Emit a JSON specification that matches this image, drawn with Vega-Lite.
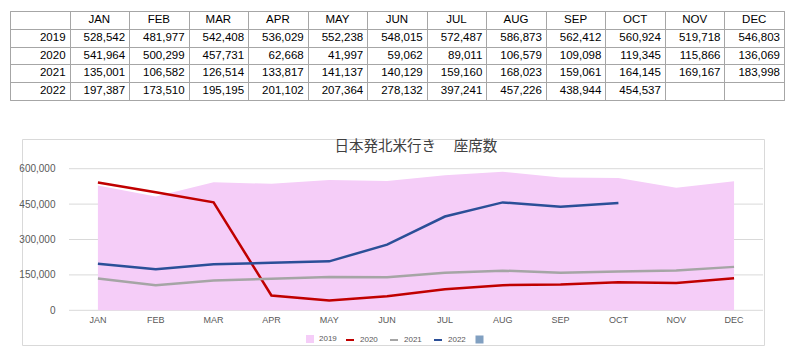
{
  "$schema": "https://vega.github.io/schema/vega-lite/v6.json",
  "padding": {"left": 9, "top": 10, "right": 0, "bottom": 0},
  "background": "white",
  "config": {"font": "Liberation Sans", "view": {"stroke": null}},
  "datasets": {
    "seats": [
      {"y": "2019", "m": "JAN", "v": 528542}, {"y": "2019", "m": "FEB", "v": 481977}, {"y": "2019", "m": "MAR", "v": 542408},
      {"y": "2019", "m": "APR", "v": 536029}, {"y": "2019", "m": "MAY", "v": 552238}, {"y": "2019", "m": "JUN", "v": 548015},
      {"y": "2019", "m": "JUL", "v": 572487}, {"y": "2019", "m": "AUG", "v": 586873}, {"y": "2019", "m": "SEP", "v": 562412},
      {"y": "2019", "m": "OCT", "v": 560924}, {"y": "2019", "m": "NOV", "v": 519718}, {"y": "2019", "m": "DEC", "v": 546803},
      {"y": "2020", "m": "JAN", "v": 541964}, {"y": "2020", "m": "FEB", "v": 500299}, {"y": "2020", "m": "MAR", "v": 457731},
      {"y": "2020", "m": "APR", "v": 62668}, {"y": "2020", "m": "MAY", "v": 41997}, {"y": "2020", "m": "JUN", "v": 59062},
      {"y": "2020", "m": "JUL", "v": 89011}, {"y": "2020", "m": "AUG", "v": 106579}, {"y": "2020", "m": "SEP", "v": 109098},
      {"y": "2020", "m": "OCT", "v": 119345}, {"y": "2020", "m": "NOV", "v": 115866}, {"y": "2020", "m": "DEC", "v": 136069},
      {"y": "2021", "m": "JAN", "v": 135001}, {"y": "2021", "m": "FEB", "v": 106582}, {"y": "2021", "m": "MAR", "v": 126514},
      {"y": "2021", "m": "APR", "v": 133817}, {"y": "2021", "m": "MAY", "v": 141137}, {"y": "2021", "m": "JUN", "v": 140129},
      {"y": "2021", "m": "JUL", "v": 159160}, {"y": "2021", "m": "AUG", "v": 168023}, {"y": "2021", "m": "SEP", "v": 159061},
      {"y": "2021", "m": "OCT", "v": 164145}, {"y": "2021", "m": "NOV", "v": 169167}, {"y": "2021", "m": "DEC", "v": 183998},
      {"y": "2022", "m": "JAN", "v": 197387}, {"y": "2022", "m": "FEB", "v": 173510}, {"y": "2022", "m": "MAR", "v": 195195},
      {"y": "2022", "m": "APR", "v": 201102}, {"y": "2022", "m": "MAY", "v": 207364}, {"y": "2022", "m": "JUN", "v": 278132},
      {"y": "2022", "m": "JUL", "v": 397241}, {"y": "2022", "m": "AUG", "v": 457226}, {"y": "2022", "m": "SEP", "v": 438944},
      {"y": "2022", "m": "OCT", "v": 454537}
    ]
  },
  "spacing": 37,
  "align": "each",
  "vconcat": [
    {
      "width": 774,
      "height": 89,
      "view": {"stroke": "#a6a6a6"},
      "data": {"name": "seats"},
      "layer": [
        {
          "transform": [{"filter": "datum.y == '2019'"}],
          "mark": {"type": "text", "align": "center", "baseline": "middle", "fontSize": 11.5, "color": "#000000"},
          "encoding": {
            "x": {"field": "m", "type": "nominal",
              "scale": {"type": "band", "domain": ["Y", "JAN", "FEB", "MAR", "APR", "MAY", "JUN", "JUL", "AUG", "SEP", "OCT", "NOV", "DEC"], "paddingInner": 0, "paddingOuter": 0},
              "axis": {"grid": true, "tickBand": "extent", "labels": false, "ticks": false, "domain": false, "title": null, "gridColor": "#a6a6a6", "gridOpacity": 1, "gridWidth": 1}},
            "y": {"datum": "H",
              "scale": {"type": "band", "domain": ["H", "2019", "2020", "2021", "2022"], "paddingInner": 0, "paddingOuter": 0},
              "axis": {"grid": true, "tickBand": "extent", "labels": false, "ticks": false, "domain": false, "title": null, "gridColor": "#a6a6a6", "gridOpacity": 1, "gridWidth": 1}},
            "text": {"field": "m"}
          }
        },
        {
          "transform": [{"filter": "datum.m == 'JAN'"}],
          "mark": {"type": "text", "align": "right", "baseline": "middle", "dx": -4, "fontSize": 11.5, "color": "#000000"},
          "encoding": {
            "x": {"datum": "Y", "bandPosition": 1,
              "scale": {"type": "band", "domain": ["Y", "JAN", "FEB", "MAR", "APR", "MAY", "JUN", "JUL", "AUG", "SEP", "OCT", "NOV", "DEC"], "paddingInner": 0, "paddingOuter": 0},
              "axis": {"grid": true, "tickBand": "extent", "labels": false, "ticks": false, "domain": false, "title": null, "gridColor": "#a6a6a6", "gridOpacity": 1, "gridWidth": 1}},
            "y": {"field": "y", "type": "nominal",
              "scale": {"type": "band", "domain": ["H", "2019", "2020", "2021", "2022"], "paddingInner": 0, "paddingOuter": 0},
              "axis": {"grid": true, "tickBand": "extent", "labels": false, "ticks": false, "domain": false, "title": null, "gridColor": "#a6a6a6", "gridOpacity": 1, "gridWidth": 1}},
            "text": {"field": "y"}
          }
        },
        {
          "mark": {"type": "text", "align": "right", "baseline": "middle", "dx": -4, "fontSize": 11.5, "color": "#000000"},
          "encoding": {
            "x": {"field": "m", "type": "nominal", "bandPosition": 1,
              "scale": {"type": "band", "domain": ["Y", "JAN", "FEB", "MAR", "APR", "MAY", "JUN", "JUL", "AUG", "SEP", "OCT", "NOV", "DEC"], "paddingInner": 0, "paddingOuter": 0},
              "axis": {"grid": true, "tickBand": "extent", "labels": false, "ticks": false, "domain": false, "title": null, "gridColor": "#a6a6a6", "gridOpacity": 1, "gridWidth": 1}},
            "y": {"field": "y", "type": "nominal",
              "scale": {"type": "band", "domain": ["H", "2019", "2020", "2021", "2022"], "paddingInner": 0, "paddingOuter": 0},
              "axis": {"grid": true, "tickBand": "extent", "labels": false, "ticks": false, "domain": false, "title": null, "gridColor": "#a6a6a6", "gridOpacity": 1, "gridWidth": 1}},
            "text": {"field": "v", "type": "quantitative", "format": ","}
          }
        }
      ]
    },
    {
      "spacing": 0,
      "align": "each",
      "hconcat": [
        {"width": 8, "height": 1, "data": {"values": []}, "mark": "point", "encoding": {}},
        {
          "width": 742,
          "height": 206,
          "view": {"stroke": "#d9d9d9"},
          "layer": [
            {
              "data": {"values": [{"g": 0}, {"g": 150000}, {"g": 300000}, {"g": 450000}, {"g": 600000}]},
              "mark": {"type": "rule", "color": "#d9d9d9", "strokeWidth": 1, "x2Offset": 29},
              "encoding": {
                "y": {"field": "g", "type": "quantitative",
                  "scale": {"domain": [-147034, 725848], "nice": false, "zero": false},
                  "axis": {"orient": "left", "offset": -37, "values": [0, 150000, 300000, 450000, 600000], "format": ",.0f", "domain": false, "ticks": false, "grid": false, "labelPadding": 4, "title": null, "labelFontSize": 10, "labelColor": "#595959"}},
                "x": {"datum": "JAN", "bandPosition": 0,
                  "scale": {"type": "band", "domain": ["JAN", "FEB", "MAR", "APR", "MAY", "JUN", "JUL", "AUG", "SEP", "OCT", "NOV", "DEC"], "paddingInner": 0, "paddingOuter": 0.415, "align": 0.979},
                  "axis": {"orient": "bottom", "offset": -34.7, "domain": false, "ticks": false, "grid": false, "labelPadding": 5.5, "labelAngle": 0, "title": null, "labelFontSize": 9, "labelColor": "#595959"}},
                "x2": {"datum": "DEC"}
              }
            },
            {
              "data": {"name": "seats"},
              "transform": [{"filter": "datum.y == '2019'"}],
              "mark": {"type": "area", "opacity": 1},
              "encoding": {
                "x": {"field": "m", "type": "nominal", "sort": ["JAN", "FEB", "MAR", "APR", "MAY", "JUN", "JUL", "AUG", "SEP", "OCT", "NOV", "DEC"],
                  "scale": {"type": "band", "domain": ["JAN", "FEB", "MAR", "APR", "MAY", "JUN", "JUL", "AUG", "SEP", "OCT", "NOV", "DEC"], "paddingInner": 0, "paddingOuter": 0.415, "align": 0.979},
                  "axis": {"orient": "bottom", "offset": -34.7, "domain": false, "ticks": false, "grid": false, "labelPadding": 5.5, "labelAngle": 0, "title": null, "labelFontSize": 9, "labelColor": "#595959"}},
                "y": {"field": "v", "type": "quantitative",
                  "scale": {"domain": [-147034, 725848], "nice": false, "zero": false},
                  "axis": {"orient": "left", "offset": -37, "values": [0, 150000, 300000, 450000, 600000], "format": ",.0f", "domain": false, "ticks": false, "grid": false, "labelPadding": 4, "title": null, "labelFontSize": 10, "labelColor": "#595959"}},
                "y2": {"datum": 0},
                "fill": {"field": "y", "type": "nominal",
                  "scale": {"domain": ["2019"], "range": ["#f5cdf8"]},
                  "legend": {"orient": "none", "legendX": 296, "legendY": 324, "direction": "horizontal", "title": null, "labelFontSize": 8, "labelColor": "#595959", "symbolSize": 64, "symbolType": "square", "symbolStrokeWidth": 0, "labelOffset": 5}}
              }
            },
            {
              "data": {"name": "seats"},
              "transform": [{"filter": "datum.y != '2019'"}],
              "mark": {"type": "line", "strokeWidth": 2.5},
              "encoding": {
                "x": {"field": "m", "type": "nominal", "sort": ["JAN", "FEB", "MAR", "APR", "MAY", "JUN", "JUL", "AUG", "SEP", "OCT", "NOV", "DEC"],
                  "scale": {"type": "band", "domain": ["JAN", "FEB", "MAR", "APR", "MAY", "JUN", "JUL", "AUG", "SEP", "OCT", "NOV", "DEC"], "paddingInner": 0, "paddingOuter": 0.415, "align": 0.979},
                  "axis": {"orient": "bottom", "offset": -34.7, "domain": false, "ticks": false, "grid": false, "labelPadding": 5.5, "labelAngle": 0, "title": null, "labelFontSize": 9, "labelColor": "#595959"}},
                "y": {"field": "v", "type": "quantitative",
                  "scale": {"domain": [-147034, 725848], "nice": false, "zero": false},
                  "axis": {"orient": "left", "offset": -37, "values": [0, 150000, 300000, 450000, 600000], "format": ",.0f", "domain": false, "ticks": false, "grid": false, "labelPadding": 4, "title": null, "labelFontSize": 10, "labelColor": "#595959"}},
                "stroke": {"field": "y", "type": "nominal",
                  "scale": {"domain": ["2020", "2021", "2022"], "range": ["#c00000", "#a5a5a5", "#2b4f98"]},
                  "legend": {"orient": "none", "legendX": 335, "legendY": 324, "direction": "horizontal", "title": null, "labelFontSize": 8, "labelColor": "#595959", "symbolSize": 64, "symbolType": "stroke", "symbolStrokeWidth": 2, "labelOffset": 5, "columnPadding": 8}}
              }
            },
            {
              "data": {"values": []},
              "mark": {"type": "point", "filled": true},
              "encoding": {
                "shape": {"field": "y", "type": "nominal",
                  "scale": {"domain": [" "], "range": ["square"]},
                  "legend": {"orient": "none", "legendX": 465, "legendY": 324, "direction": "horizontal", "title": null, "labelFontSize": 8, "symbolSize": 64, "symbolFillColor": "#6a9bd8", "symbolStrokeColor": "#4a7ec0", "symbolStrokeWidth": 0.6, "labelOffset": 5}}
              }
            },
            {
              "data": {"values": [{"t": "日本発北米行き　 座席数"}]},
              "mark": {"type": "text", "font": "Noto Sans CJK JP", "fontSize": 14.5, "color": "#404040", "baseline": "top", "align": "center", "dy": 1},
              "encoding": {
                "text": {"field": "t"},
                "x": {"datum": "JUN", "bandPosition": 1,
                  "scale": {"type": "band", "domain": ["JAN", "FEB", "MAR", "APR", "MAY", "JUN", "JUL", "AUG", "SEP", "OCT", "NOV", "DEC"], "paddingInner": 0, "paddingOuter": 0.415, "align": 0.979},
                  "axis": {"orient": "bottom", "offset": -34.7, "domain": false, "ticks": false, "grid": false, "labelPadding": 5.5, "labelAngle": 0, "title": null, "labelFontSize": 9, "labelColor": "#595959"}},
                "y": {"datum": 725848,
                  "scale": {"domain": [-147034, 725848], "nice": false, "zero": false},
                  "axis": {"orient": "left", "offset": -37, "values": [0, 150000, 300000, 450000, 600000], "format": ",.0f", "domain": false, "ticks": false, "grid": false, "labelPadding": 4, "title": null, "labelFontSize": 10, "labelColor": "#595959"}}
              }
            }
          ]
        }
      ]
    }
  ]
}
